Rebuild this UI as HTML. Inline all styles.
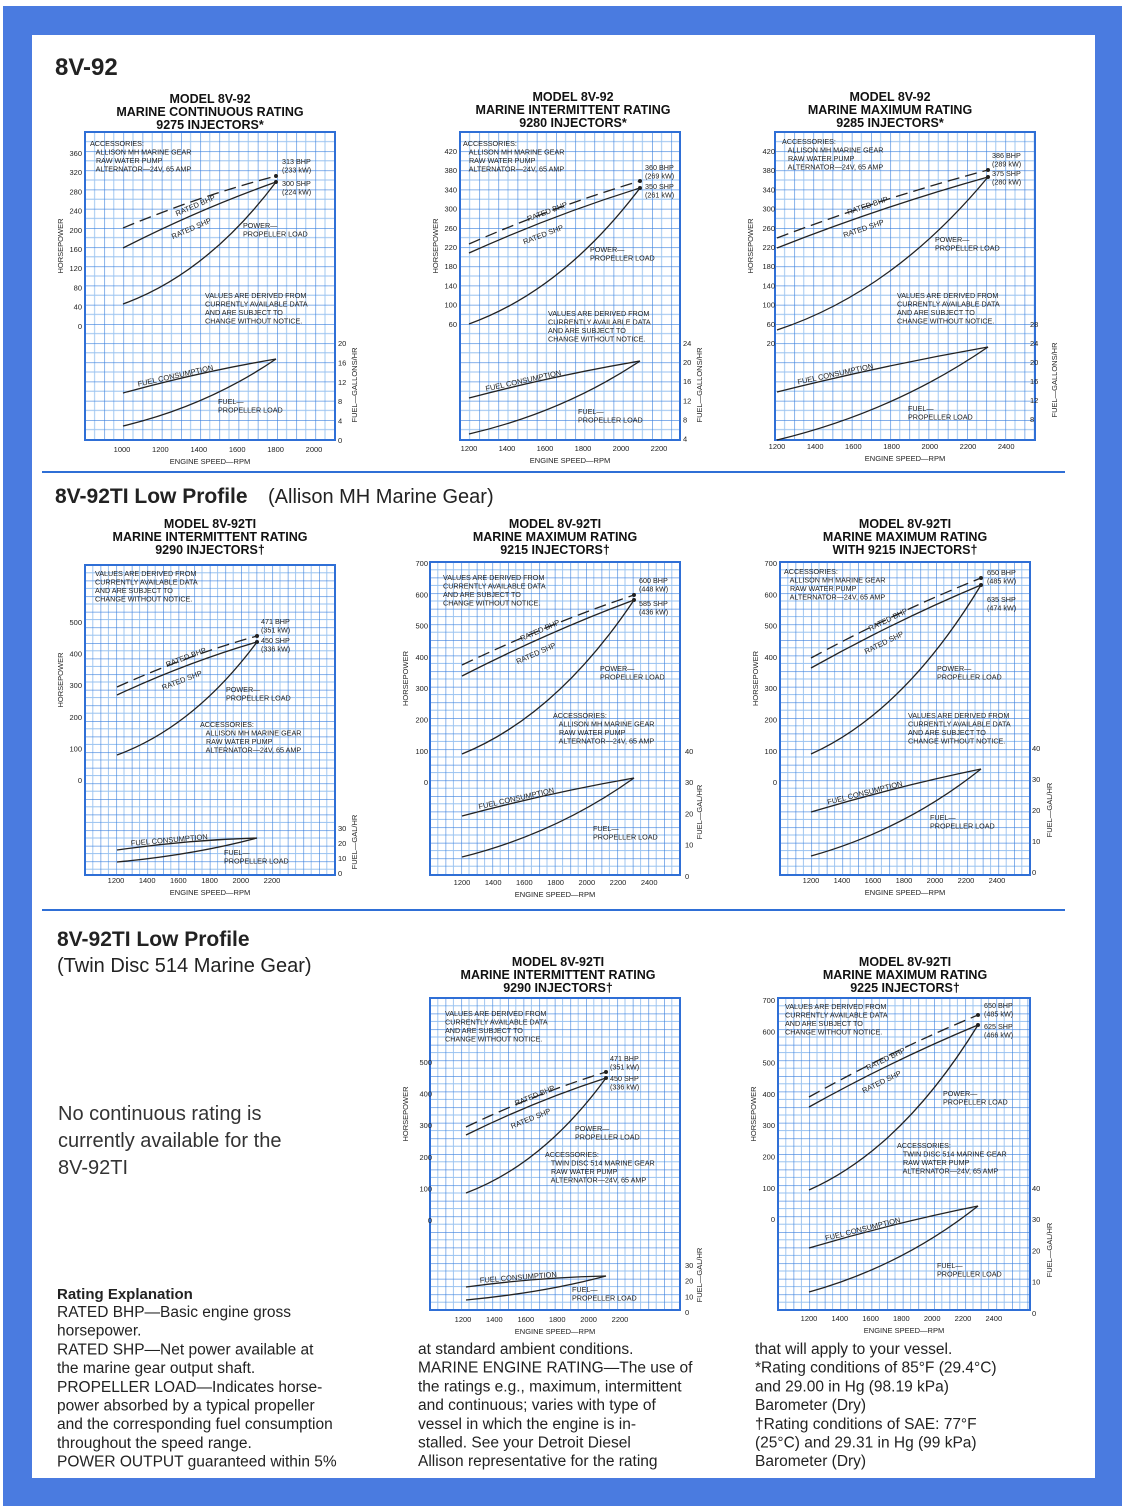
<!DOCTYPE html>
<html><head><meta charset="utf-8"><style>
html,body{margin:0;padding:0;background:#fff}
svg{display:block}
text{font-family:"Liberation Sans",sans-serif;white-space:pre}
</style></head><body>
<svg id="s" width="1127" height="1512" viewBox="0 0 1127 1512" xmlns="http://www.w3.org/2000/svg"></svg>
<script>
var o='';
o+='<rect x="0" y="0" width="1127" height="1512" fill="#fff"/>';
o+='<rect x="3" y="6" width="1119" height="1500" fill="#4a7be0"/>';
o+='<rect x="32" y="35" width="1063" height="1443" fill="#fff"/>';
function T(x,y,s,sz,opt){opt=opt||{};o+='<text xml:space="preserve" x="'+x+'" y="'+y+'" font-size="'+sz+'"'+(opt.b?' font-weight="bold"':'')+(opt.a?' text-anchor="'+opt.a+'"':'')+(opt.r!=null?' transform="rotate('+opt.r+' '+x+' '+y+')"':'')+' fill="'+(opt.c||'#222')+'">'+s+'</text>';}
var pid=0;
function chart(c){
 pid++;var g=c.g,id='p'+pid;
 o+='<defs><pattern id="'+id+'" patternUnits="userSpaceOnUse" x="'+c.x+'" y="'+c.y+'" width="'+g+'" height="'+g+'">'+
 '<path d="M'+(g/2)+' 0V'+g+'M0 '+(g/2)+'H'+g+'" stroke="#98c2f0" stroke-width="0.9"/>'+
 '<path d="M0 0V'+g+'M0 0H'+g+'" stroke="#3a80de" stroke-width="1.2"/></pattern></defs>';
 o+='<rect x="'+c.x+'" y="'+c.y+'" width="'+c.w+'" height="'+c.h+'" fill="url(#'+id+')" stroke="#2f6fd6" stroke-width="2"/>';
 c.t.forEach(function(s,i){T(c.tx,c.ty+i*13,s,12.5,{b:1,a:'middle',c:'#111'});});
 c.hp.forEach(function(v){T(c.hx,v[1]+3,v[0],7.5,{a:'end'});});
 c.fu.forEach(function(v){T(c.fx,v[1]+3,v[0],7.5);});
 c.rpm.forEach(function(v){T(v[1],c.ry,v[0],7.5,{a:'middle'});});
 T((c.x+c.x+c.w)/2,c.ry+12,'ENGINE SPEED—RPM',7.5,{a:'middle'});
 T(c.x-22,(c.y+c.y+c.h)/2-40,'HORSEPOWER',7.5,{a:'middle',r:-90});
 T(c.x+c.w+22,c.fly,c.fl,7.5,{a:'middle',r:-90});
 var L=c.L;
 o+='<path d="M'+L.b[0]+' '+L.b[1]+' Q'+((L.b[0]+L.b[2])/2)+' '+((L.b[1]+L.b[3])/2-6)+' '+L.b[2]+' '+L.b[3]+'" fill="none" stroke="#222" stroke-width="1.3" stroke-dasharray="12 6"/>';
 o+='<path d="M'+L.s[0]+' '+L.s[1]+' Q'+((L.s[0]+L.s[2])/2)+' '+((L.s[1]+L.s[3])/2-6)+' '+L.s[2]+' '+L.s[3]+'" fill="none" stroke="#222" stroke-width="1.3"/>';
 o+='<path d="M'+L.p[0]+' '+L.p[1]+' Q'+(L.p[0]+(L.p[2]-L.p[0])*0.55)+' '+(L.p[1]-(L.p[1]-L.p[3])*0.25)+' '+L.p[2]+' '+L.p[3]+'" fill="none" stroke="#222" stroke-width="1.3"/>';
 o+='<path d="M'+L.f[0]+' '+L.f[1]+' Q'+((L.f[0]+L.f[2])/2)+' '+((L.f[1]+L.f[3])/2-4)+' '+L.f[2]+' '+L.f[3]+'" fill="none" stroke="#222" stroke-width="1.3"/>';
 o+='<path d="M'+L.q[0]+' '+L.q[1]+' Q'+(L.q[0]+(L.q[2]-L.q[0])*0.55)+' '+(L.q[1]-(L.q[1]-L.q[3])*0.3)+' '+L.q[2]+' '+L.q[3]+'" fill="none" stroke="#222" stroke-width="1.3"/>';
 o+='<circle cx="'+L.b[2]+'" cy="'+L.b[3]+'" r="2" fill="#222"/><circle cx="'+L.s[2]+'" cy="'+L.s[3]+'" r="2" fill="#222"/>';
 c.notes.forEach(function(n){n[2].forEach(function(s,i){T(n[0],n[1]+i*8.5,s,7.2,{c:'#222'});});});
 var ang=Math.atan2(L.s[3]-L.s[1],L.s[2]-L.s[0])*180/Math.PI;
 var mx=L.s[0]+(L.s[2]-L.s[0])*0.3,my=L.s[1]+(L.s[3]-L.s[1])*0.3;
 T(mx+8,my-12,'RATED BHP',7.5,{r:ang});T(mx+4,my+11,'RATED SHP',7.5,{r:ang});
 var fa=Math.atan2(L.f[3]-L.f[1],L.f[2]-L.f[0])*180/Math.PI;
 T(L.f[0]+(L.f[2]-L.f[0])*0.1,L.f[1]+(L.f[3]-L.f[1])*0.1-3,'FUEL CONSUMPTION',7.5,{r:fa});
}
var acc=['ACCESSORIES:','   ALLISON MH MARINE GEAR','   RAW WATER PUMP','   ALTERNATOR—24V, 65 AMP'];
var acc2=['ACCESSORIES:','   TWIN DISC 514 MARINE GEAR','   RAW WATER PUMP','   ALTERNATOR—24V, 65 AMP'];
var val=['VALUES ARE DERIVED FROM','CURRENTLY AVAILABLE DATA','AND ARE SUBJECT TO','CHANGE WITHOUT NOTICE.'];
function seq(a,b,n,y0,dy){var r=[];for(var i=0;i<n;i++)r.push([String(a+i*b),y0+i*dy]);return r;}
chart({x:85,y:132,w:250,h:308,g:19.2,t:['MODEL 8V-92','MARINE CONTINUOUS RATING','9275 INJECTORS*'],tx:210,ty:103,
 hp:seq(360,-40,10,153,19.2),hx:82,fu:seq(20,-4,6,343,19.4),fx:338,fl:'FUEL—GALLONS/HR',fly:385,
 rpm:seq(1000,200,6,122,38.4),ry:452,
 L:{b:[123,228,276,176],s:[123,248,276,182],p:[123,304,276,182],f:[123,393,276,359],q:[123,426,276,359]},
 notes:[[90,146,acc],[282,164,['313 BHP','(233 kW)']],[282,186,['300 SHP','(224 kW)']],[243,228,['POWER—','PROPELLER LOAD']],[205,298,val],[218,404,['FUEL—','PROPELLER LOAD']]]});
chart({x:460,y:132,w:220,h:308,g:19.2,t:['MODEL 8V-92','MARINE INTERMITTENT RATING','9280 INJECTORS*'],tx:573,ty:101,
 hp:seq(420,-40,10,151,19.2),hx:457,fu:seq(24,-4,6,343,19.1),fx:683,fl:'FUEL—GALLONS/HR',fly:385,
 rpm:seq(1200,200,6,469,38),ry:451,
 L:{b:[469,244,640,181],s:[469,253,640,188],p:[469,324,640,188],f:[469,398,640,361],q:[469,434,640,361]},
 notes:[[463,146,acc],[645,170,['360 BHP','(269 kW)']],[645,189,['350 SHP','(261 kW)']],[590,252,['POWER—','PROPELLER LOAD']],[548,316,val],[578,414,['FUEL—','PROPELLER LOAD']]]});
chart({x:775,y:132,w:260,h:308,g:19.2,t:['MODEL 8V-92','MARINE MAXIMUM RATING','9285 INJECTORS*'],tx:890,ty:101,
 hp:seq(420,-40,11,151,19.2),hx:775,fu:seq(28,-4,6,324,19),fx:1030,fl:'FUEL—GALLONS/HR',fly:380,
 rpm:seq(1200,200,7,777,38.2),ry:449,
 L:{b:[777,238,988,170],s:[777,248,988,177],p:[777,330,988,177],f:[777,392,988,347],q:[777,440,988,347]},
 notes:[[782,144,acc],[992,158,['386 BHP','(289 kW)']],[992,176,['375 SHP','(280 kW)']],[935,242,['POWER—','PROPELLER LOAD']],[897,298,val],[908,411,['FUEL—','PROPELLER LOAD']]]});
o+='<line x1="42" y1="472" x2="1065" y2="472" stroke="#2f6fd6" stroke-width="2"/>';
T(55,75,'8V-92',24,{b:1,c:'#222'});
T(55,503,'8V-92TI Low Profile',21,{b:1,c:'#222'});T(268,503,'(Allison MH Marine Gear)',20,{c:'#222'});
chart({x:85,y:565,w:250,h:310,g:15.6,t:['MODEL 8V-92TI','MARINE INTERMITTENT RATING','9290 INJECTORS†'],tx:210,ty:528,
 hp:seq(500,-100,6,622,31.6),hx:82,fu:seq(30,-10,4,828,15),fx:338,fl:'FUEL—GAL/HR',fly:842,
 rpm:seq(1200,200,6,116,31.2),ry:883,
 L:{b:[117,687,257,636],s:[117,695,257,642],p:[117,755,257,642],f:[117,850,257,838],q:[117,862,257,838]},
 notes:[[95,576,val],[261,624,['471 BHP','(351 kW)']],[261,643,['450 SHP','(336 kW)']],[226,692,['POWER—','PROPELLER LOAD']],[200,727,acc],[224,855,['FUEL—','PROPELLER LOAD']]]});
chart({x:430,y:562,w:250,h:313,g:15.6,t:['MODEL 8V-92TI','MARINE MAXIMUM RATING','9215 INJECTORS†'],tx:555,ty:528,
 hp:seq(700,-100,8,563,31.3),hx:428,fu:seq(40,-10,5,751,31.2),fx:685,fl:'FUEL—GAL/HR',fly:812,
 rpm:seq(1200,200,7,462,31.2),ry:885,
 L:{b:[462,665,634,595],s:[462,676,634,600],p:[462,754,634,600],f:[462,816,634,778],q:[462,857,634,778]},
 notes:[[443,580,val],[639,583,['600 BHP','(448 kW)']],[639,606,['585 SHP','(436 kW)']],[600,671,['POWER—','PROPELLER LOAD']],[553,718,acc],[593,831,['FUEL—','PROPELLER LOAD']]]});
chart({x:780,y:562,w:250,h:313,g:15.6,t:['MODEL 8V-92TI','MARINE MAXIMUM RATING','WITH 9215 INJECTORS†'],tx:905,ty:528,
 hp:seq(700,-100,8,563,31.3),hx:777,fu:seq(40,-10,5,748,31),fx:1032,fl:'FUEL—GAL/HR',fly:810,
 rpm:seq(1200,200,7,811,31),ry:883,
 L:{b:[811,658,981,578],s:[811,668,981,585],p:[811,754,981,585],f:[811,812,981,769],q:[811,856,981,769]},
 notes:[[784,574,acc],[987,575,['650 BHP','(485 kW)']],[987,602,['635 SHP','(474 kW)']],[937,671,['POWER—','PROPELLER LOAD']],[908,718,val],[930,820,['FUEL—','PROPELLER LOAD']]]});
o+='<line x1="42" y1="910" x2="1065" y2="910" stroke="#2f6fd6" stroke-width="2"/>';
T(57,946,'8V-92TI Low Profile',21,{b:1,c:'#222'});T(57,972,'(Twin Disc 514 Marine Gear)',20,{c:'#222'});
chart({x:430,y:998,w:250,h:312,g:15.6,t:['MODEL 8V-92TI','MARINE INTERMITTENT RATING','9290 INJECTORS†'],tx:558,ty:966,
 hp:seq(500,-100,6,1062,31.6),hx:432,fu:seq(30,-10,4,1265,15.7),fx:685,fl:'FUEL—GAL/HR',fly:1275,
 rpm:seq(1200,200,6,463,31.4),ry:1322,
 L:{b:[466,1127,606,1072],s:[466,1135,606,1078],p:[466,1193,606,1078],f:[466,1287,606,1276],q:[466,1300,606,1276]},
 notes:[[445,1016,val],[610,1061,['471 BHP','(351 kW)']],[610,1081,['450 SHP','(336 kW)']],[575,1131,['POWER—','PROPELLER LOAD']],[545,1157,acc2],[572,1292,['FUEL—','PROPELLER LOAD']]]});
chart({x:778,y:998,w:252,h:312,g:15.6,t:['MODEL 8V-92TI','MARINE MAXIMUM RATING','9225 INJECTORS†'],tx:905,ty:966,
 hp:seq(700,-100,8,1000,31.3),hx:775,fu:seq(40,-10,5,1188,31.2),fx:1032,fl:'FUEL—GAL/HR',fly:1250,
 rpm:seq(1200,200,7,809,30.8),ry:1321,
 L:{b:[809,1097,978,1015],s:[809,1107,978,1025],p:[809,1190,978,1025],f:[809,1248,978,1206],q:[809,1292,978,1206]},
 notes:[[785,1009,val],[984,1008,['650 BHP','(485 kW)']],[984,1029,['625 SHP','(466 kW)']],[943,1096,['POWER—','PROPELLER LOAD']],[897,1148,acc2],[937,1268,['FUEL—','PROPELLER LOAD']]]});
['No continuous rating is','currently available for the','8V-92TI'].forEach(function(s,i){T(58,1120+i*27,s,20,{c:'#333'});});
T(57,1299,'Rating Explanation',15,{b:1,c:'#222'});
var a=['RATED BHP—Basic engine gross','horsepower.','RATED SHP—Net power available at','the marine gear output shaft.','PROPELLER LOAD—Indicates horse-','power absorbed by a typical propeller','and the corresponding fuel consumption','throughout the speed range.','POWER OUTPUT guaranteed within 5%'];
a.forEach(function(s,i){T(57,1317+i*18.7,s,15.5,{c:'#222'});});
var b=['at standard ambient conditions.','MARINE ENGINE RATING—The use of','the ratings e.g., maximum, intermittent','and continuous; varies with type of','vessel in which the engine is in-','stalled. See your Detroit Diesel','Allison representative for the rating'];
b.forEach(function(s,i){T(418,1354+i*18.7,s,15.5,{c:'#222'});});
var c=['that will apply to your vessel.','*Rating conditions of 85°F (29.4°C)','and 29.00 in Hg (98.19 kPa)','Barometer (Dry)','†Rating conditions of SAE: 77°F','(25°C) and 29.31 in Hg (99 kPa)','Barometer (Dry)'];
c.forEach(function(s,i){T(755,1354+i*18.7,s,15.5,{c:'#222'});});
document.getElementById('s').innerHTML=o;
</script>
</body></html>
